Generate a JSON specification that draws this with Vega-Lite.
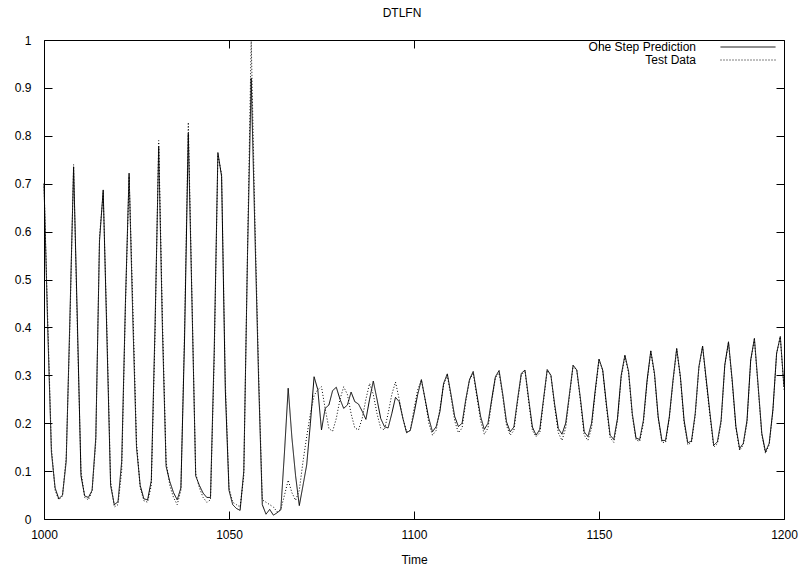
{
"$schema": "https://vega.github.io/schema/vega-lite/v6.json",
"width": 740, "height": 479,
"autosize": {"type": "none"},
"padding": {"left": 44, "top": 40, "right": 20, "bottom": 52},
"background": "white",
"config": {"view": {"stroke": "black", "strokeWidth": 1}, "font": "Liberation Sans",
  "axis": {"labelColor": "black", "labelFontSize": 12, "labelFont": "Liberation Sans", "titleFont": "Liberation Sans", "titleFontSize": 12, "titleFontWeight": "normal", "titleColor": "black", "grid": false, "labelFlush": false, "labelOverlap": false}},
"title": {"text": "DTLFN", "fontSize": 12, "fontWeight": "normal", "font": "Liberation Sans", "color": "black", "offset": 14, "dx": -12},
"data": {"values": [
{"t":1000,"p":0.70,"d":0.70},{"t":1001,"p":0.40,"d":0.42},{"t":1002,"p":0.14,"d":0.15},{"t":1003,"p":0.065,"d":0.06},{"t":1004,"p":0.042,"d":0.04},
{"t":1005,"p":0.05,"d":0.048},{"t":1006,"p":0.12,"d":0.13},{"t":1007,"p":0.42,"d":0.40},{"t":1008,"p":0.735,"d":0.74},{"t":1009,"p":0.42,"d":0.40},
{"t":1010,"p":0.09,"d":0.10},{"t":1011,"p":0.048,"d":0.045},{"t":1012,"p":0.045,"d":0.04},{"t":1013,"p":0.06,"d":0.058},{"t":1014,"p":0.17,"d":0.16},
{"t":1015,"p":0.58,"d":0.59},{"t":1016,"p":0.687,"d":0.68},{"t":1017,"p":0.38,"d":0.40},{"t":1018,"p":0.07,"d":0.08},{"t":1019,"p":0.03,"d":0.025},
{"t":1020,"p":0.036,"d":0.03},{"t":1021,"p":0.12,"d":0.10},{"t":1022,"p":0.45,"d":0.44},{"t":1023,"p":0.722,"d":0.715},{"t":1024,"p":0.42,"d":0.45},
{"t":1025,"p":0.15,"d":0.16},{"t":1026,"p":0.07,"d":0.065},{"t":1027,"p":0.042,"d":0.038},{"t":1028,"p":0.04,"d":0.035},{"t":1029,"p":0.08,"d":0.07},
{"t":1030,"p":0.40,"d":0.38},{"t":1031,"p":0.777,"d":0.79},{"t":1032,"p":0.40,"d":0.42},{"t":1033,"p":0.11,"d":0.12},{"t":1034,"p":0.078,"d":0.07},
{"t":1035,"p":0.055,"d":0.045},{"t":1036,"p":0.04,"d":0.03},{"t":1037,"p":0.065,"d":0.06},{"t":1038,"p":0.38,"d":0.40},{"t":1039,"p":0.805,"d":0.828},
{"t":1040,"p":0.45,"d":0.46},{"t":1041,"p":0.09,"d":0.095},{"t":1042,"p":0.07,"d":0.065},{"t":1043,"p":0.054,"d":0.045},{"t":1044,"p":0.045,"d":0.035},
{"t":1045,"p":0.045,"d":0.04},{"t":1046,"p":0.35,"d":0.33},{"t":1047,"p":0.765,"d":0.76},{"t":1048,"p":0.715,"d":0.72},{"t":1049,"p":0.27,"d":0.29},
{"t":1050,"p":0.06,"d":0.065},{"t":1051,"p":0.03,"d":0.035},{"t":1052,"p":0.022,"d":0.03},{"t":1053,"p":0.018,"d":0.025},{"t":1054,"p":0.10,"d":0.09},
{"t":1055,"p":0.55,"d":0.56},{"t":1056,"p":0.92,"d":1.0},{"t":1057,"p":0.60,"d":0.63},{"t":1058,"p":0.29,"d":0.31},{"t":1059,"p":0.03,"d":0.04},
{"t":1060,"p":0.01,"d":0.035},{"t":1061,"p":0.02,"d":0.03},{"t":1062,"p":0.008,"d":0.025},{"t":1063,"p":0.013,"d":0.015},{"t":1064,"p":0.019,"d":0.02},
{"t":1065,"p":0.14,"d":0.05},{"t":1066,"p":0.273,"d":0.081},{"t":1067,"p":0.17,"d":0.055},{"t":1068,"p":0.09,"d":0.039},{"t":1069,"p":0.028,"d":0.06},
{"t":1070,"p":0.07,"d":0.12},{"t":1071,"p":0.113,"d":0.172},{"t":1072,"p":0.20,"d":0.22},{"t":1073,"p":0.297,"d":0.258},{"t":1074,"p":0.27,"d":0.27},
{"t":1075,"p":0.186,"d":0.276},{"t":1076,"p":0.231,"d":0.23},{"t":1077,"p":0.238,"d":0.189},{"t":1078,"p":0.268,"d":0.183},{"t":1079,"p":0.275,"d":0.21},
{"t":1080,"p":0.25,"d":0.25},{"t":1081,"p":0.231,"d":0.276},{"t":1082,"p":0.238,"d":0.26},{"t":1083,"p":0.265,"d":0.22},{"t":1084,"p":0.245,"d":0.19},
{"t":1085,"p":0.24,"d":0.186},{"t":1086,"p":0.225,"d":0.21},{"t":1087,"p":0.208,"d":0.25},{"t":1088,"p":0.25,"d":0.283},{"t":1089,"p":0.288,"d":0.26},
{"t":1090,"p":0.25,"d":0.22},{"t":1091,"p":0.21,"d":0.19},{"t":1092,"p":0.193,"d":0.186},{"t":1093,"p":0.19,"d":0.22},{"t":1094,"p":0.22,"d":0.26},
{"t":1095,"p":0.254,"d":0.286},{"t":1096,"p":0.245,"d":0.25},{"t":1097,"p":0.21,"d":0.21},{"t":1098,"p":0.18,"d":0.182},{"t":1099,"p":0.185,"d":0.185},
{"t":1100,"p":0.22,"d":0.23},{"t":1101,"p":0.26,"d":0.27},{"t":1102,"p":0.291,"d":0.29},{"t":1103,"p":0.25,"d":0.25},{"t":1104,"p":0.21,"d":0.20},
{"t":1105,"p":0.182,"d":0.175},{"t":1106,"p":0.193,"d":0.185},{"t":1107,"p":0.224,"d":0.23},{"t":1108,"p":0.283,"d":0.28},{"t":1109,"p":0.303,"d":0.30},
{"t":1110,"p":0.26,"d":0.255},{"t":1111,"p":0.214,"d":0.205},{"t":1112,"p":0.193,"d":0.18},{"t":1113,"p":0.20,"d":0.19},{"t":1114,"p":0.25,"d":0.245},
{"t":1115,"p":0.291,"d":0.29},{"t":1116,"p":0.308,"d":0.305},{"t":1117,"p":0.26,"d":0.255},{"t":1118,"p":0.214,"d":0.205},{"t":1119,"p":0.187,"d":0.177},
{"t":1120,"p":0.20,"d":0.19},{"t":1121,"p":0.25,"d":0.245},{"t":1122,"p":0.297,"d":0.295},{"t":1123,"p":0.31,"d":0.305},{"t":1124,"p":0.26,"d":0.255},
{"t":1125,"p":0.203,"d":0.195},{"t":1126,"p":0.182,"d":0.175},{"t":1127,"p":0.192,"d":0.185},{"t":1128,"p":0.25,"d":0.245},{"t":1129,"p":0.304,"d":0.30},
{"t":1130,"p":0.311,"d":0.31},{"t":1131,"p":0.25,"d":0.245},{"t":1132,"p":0.192,"d":0.185},{"t":1133,"p":0.175,"d":0.172},{"t":1134,"p":0.187,"d":0.18},
{"t":1135,"p":0.25,"d":0.245},{"t":1136,"p":0.312,"d":0.31},{"t":1137,"p":0.30,"d":0.30},{"t":1138,"p":0.24,"d":0.235},{"t":1139,"p":0.189,"d":0.18},
{"t":1140,"p":0.177,"d":0.164},{"t":1141,"p":0.20,"d":0.19},{"t":1142,"p":0.26,"d":0.255},{"t":1143,"p":0.321,"d":0.32},{"t":1144,"p":0.311,"d":0.31},
{"t":1145,"p":0.25,"d":0.245},{"t":1146,"p":0.182,"d":0.175},{"t":1147,"p":0.172,"d":0.164},{"t":1148,"p":0.20,"d":0.19},{"t":1149,"p":0.27,"d":0.265},
{"t":1150,"p":0.334,"d":0.332},{"t":1151,"p":0.311,"d":0.31},{"t":1152,"p":0.24,"d":0.235},{"t":1153,"p":0.175,"d":0.17},{"t":1154,"p":0.166,"d":0.16},
{"t":1155,"p":0.21,"d":0.205},{"t":1156,"p":0.30,"d":0.295},{"t":1157,"p":0.342,"d":0.34},{"t":1158,"p":0.308,"d":0.305},{"t":1159,"p":0.22,"d":0.215},
{"t":1160,"p":0.169,"d":0.165},{"t":1161,"p":0.166,"d":0.162},{"t":1162,"p":0.206,"d":0.20},{"t":1163,"p":0.29,"d":0.285},{"t":1164,"p":0.351,"d":0.35},
{"t":1165,"p":0.304,"d":0.30},{"t":1166,"p":0.213,"d":0.21},{"t":1167,"p":0.164,"d":0.16},{"t":1168,"p":0.164,"d":0.16},{"t":1169,"p":0.213,"d":0.21},
{"t":1170,"p":0.29,"d":0.285},{"t":1171,"p":0.356,"d":0.355},{"t":1172,"p":0.297,"d":0.295},{"t":1173,"p":0.206,"d":0.20},{"t":1174,"p":0.159,"d":0.155},
{"t":1175,"p":0.163,"d":0.16},{"t":1176,"p":0.22,"d":0.215},{"t":1177,"p":0.318,"d":0.315},{"t":1178,"p":0.361,"d":0.36},{"t":1179,"p":0.29,"d":0.285},
{"t":1180,"p":0.22,"d":0.215},{"t":1181,"p":0.154,"d":0.15},{"t":1182,"p":0.161,"d":0.157},{"t":1183,"p":0.206,"d":0.20},{"t":1184,"p":0.322,"d":0.32},
{"t":1185,"p":0.37,"d":0.368},{"t":1186,"p":0.29,"d":0.285},{"t":1187,"p":0.193,"d":0.19},{"t":1188,"p":0.147,"d":0.143},{"t":1189,"p":0.158,"d":0.155},
{"t":1190,"p":0.206,"d":0.20},{"t":1191,"p":0.332,"d":0.33},{"t":1192,"p":0.377,"d":0.375},{"t":1193,"p":0.28,"d":0.275},{"t":1194,"p":0.179,"d":0.175},
{"t":1195,"p":0.14,"d":0.137},{"t":1196,"p":0.158,"d":0.155},{"t":1197,"p":0.228,"d":0.225},{"t":1198,"p":0.346,"d":0.345},{"t":1199,"p":0.381,"d":0.38},
{"t":1200,"p":0.276,"d":0.27}
]},
"transform": [{"fold": ["p", "d"], "as": ["s", "v"]}],
"layer": [
 {"transform": [{"filter": "datum.s == 'p'"}],
  "mark": {"type": "line", "color": "black", "strokeWidth": 1},
  "encoding": {
   "x": {"field": "t", "type": "quantitative", "scale": {"domain": [1000, 1200], "nice": false, "zero": false},
     "axis": {"orient": "bottom", "values": [1000, 1050, 1100, 1150, 1200], "format": "d", "domain": false, "ticks": true, "tickSize": 8, "tickWidth": 1, "tickColor": "black", "tickOpacity": 1, "offset": -8, "labelPadding": 10, "title": "Time", "titlePadding": 14, "zindex": 1}},
   "y": {"field": "v", "type": "quantitative", "scale": {"domain": [0, 1], "nice": false},
     "axis": {"orient": "left", "values": [0, 0.1, 0.2, 0.3, 0.4, 0.5, 0.6, 0.7, 0.8, 0.9, 1], "format": "~g", "domain": false, "ticks": true, "tickSize": 8, "tickWidth": 1, "tickColor": "black", "tickOpacity": 1, "offset": -8, "labelPadding": 13, "title": null, "zindex": 1}},
   "strokeDash": {"field": "s", "type": "nominal", "scale": {"domain": ["p", "d"], "range": [[1, 0], [1, 2]]},
     "legend": {"orient": "none", "legendX": 698, "legendY": 1, "title": null, "symbolType": "M-5,0L5,0", "symbolSize": 121, "symbolStrokeWidth": 1, "symbolStrokeColor": "black", "symbolFillColor": "transparent", "labelAlign": "right", "labelOffset": -58, "labelFontSize": 12, "labelFont": "Liberation Sans", "labelColor": "black", "padding": 0, "rowPadding": 1, "labelExpr": "datum.value == 'p' ? 'One Step Prediction' : 'Test Data'"}}
  }},
 {"transform": [{"filter": "datum.s == 'd'"}],
  "mark": {"type": "line", "color": "black", "strokeWidth": 1},
  "encoding": {
   "x": {"field": "t", "type": "quantitative", "scale": {"domain": [1000, 1200], "nice": false, "zero": false},
     "axis": {"orient": "top", "values": [1000, 1050, 1100, 1150, 1200], "labels": false, "domain": false, "ticks": true, "tickSize": 8, "tickWidth": 1, "tickColor": "black", "tickOpacity": 1, "offset": -8, "title": null, "zindex": 1}},
   "y": {"field": "v", "type": "quantitative", "scale": {"domain": [0, 1], "nice": false},
     "axis": {"orient": "right", "values": [0, 0.1, 0.2, 0.3, 0.4, 0.5, 0.6, 0.7, 0.8, 0.9, 1], "labels": false, "domain": false, "ticks": true, "tickSize": 8, "tickWidth": 1, "tickColor": "black", "tickOpacity": 1, "offset": -8, "title": null, "zindex": 1}},
   "strokeDash": {"field": "s", "type": "nominal", "scale": {"domain": ["p", "d"], "range": [[1, 0], [1, 2]]}}
  }}
]
}
